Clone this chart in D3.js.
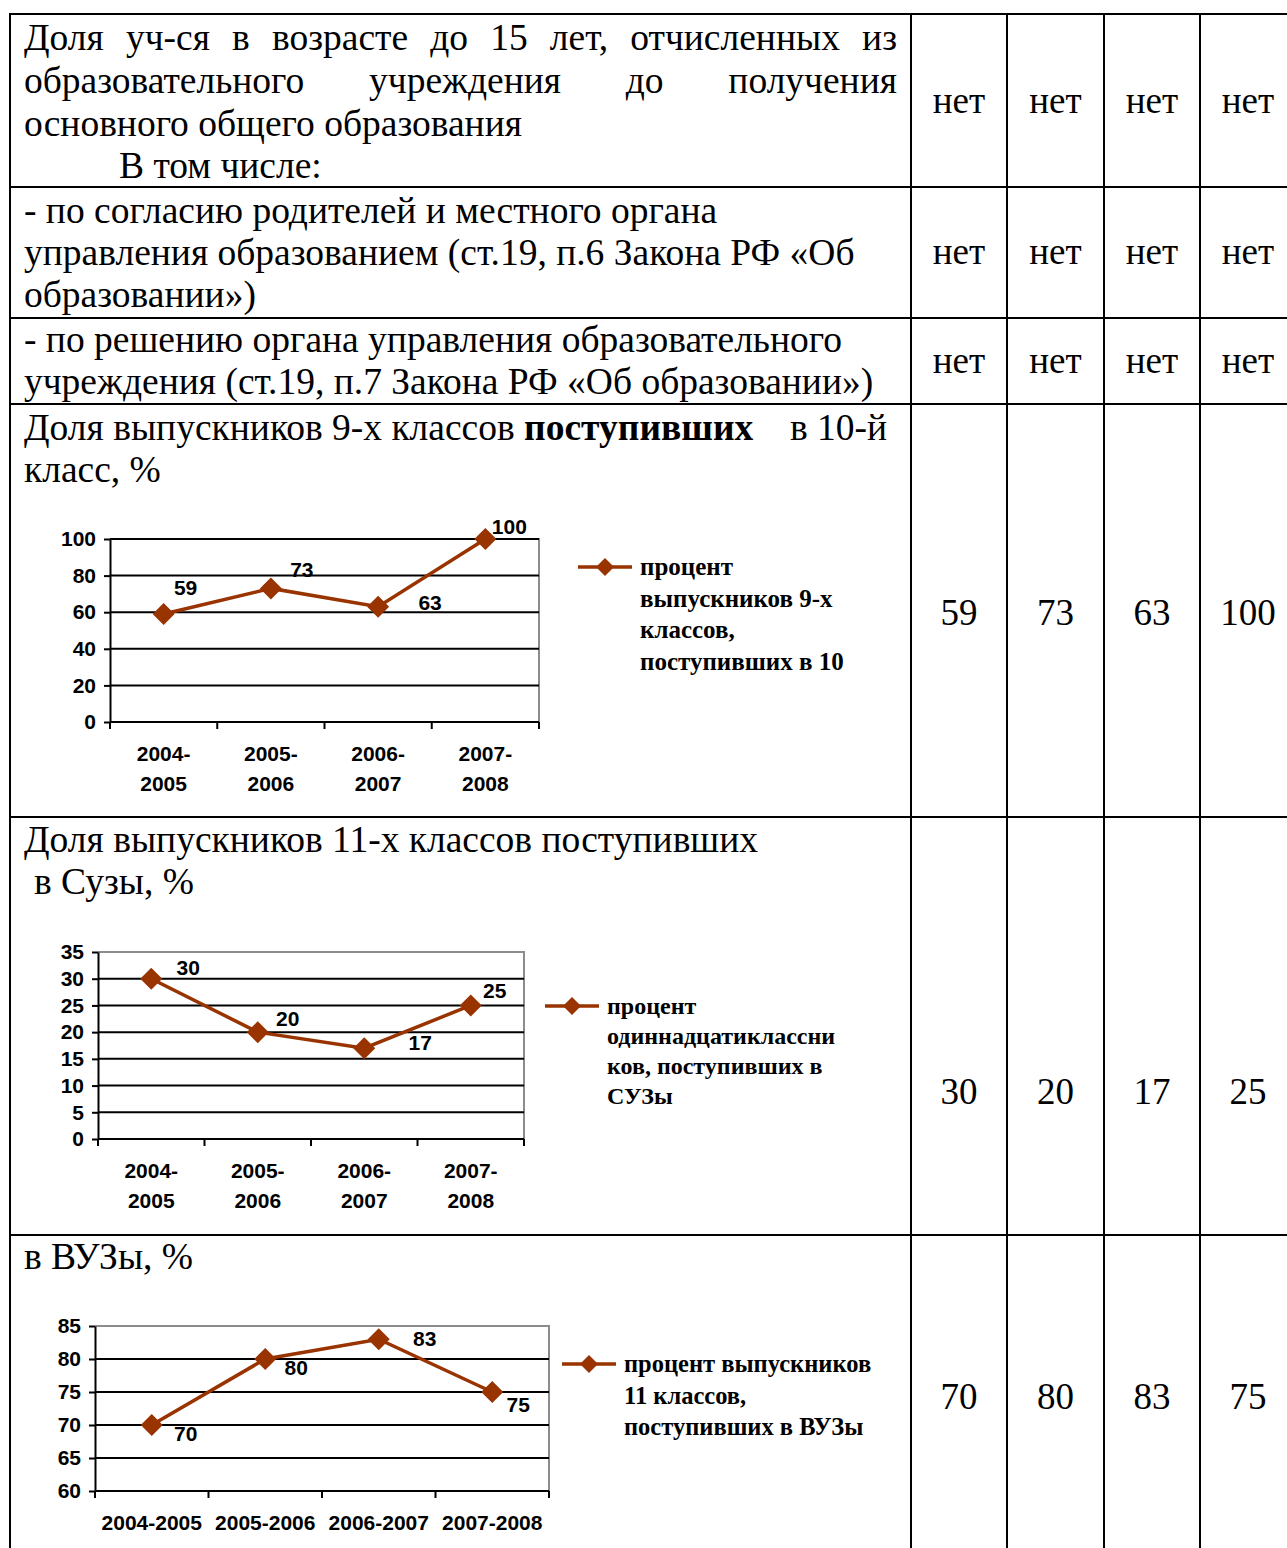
<!DOCTYPE html>
<html>
<head>
<meta charset="utf-8">
<script src="https://cdn.jsdelivr.net/npm/d3@7"></script>
<style>
  body { margin: 0; background: #fff; }
  svg { display: block; }
</style>
</head>
<body>
<script>
// ---- data ----
var years = ["2004-2005", "2005-2006", "2006-2007", "2007-2008"];
var noValues = ["нет", "нет", "нет", "нет"];
var grads9 = [59, 73, 63, 100];      // 9-х классов поступивших в 10-й класс
var grads11Suz = [30, 20, 17, 25];   // 11-х классов в ССУЗы
var grads11Vuz = [70, 80, 83, 75];   // 11-х классов в ВУЗы
var ticks9 = [0, 20, 40, 60, 80, 100];
var ticksSuz = [0, 5, 10, 15, 20, 25, 30, 35];
var ticksVuz = [60, 65, 70, 75, 80, 85];

var W = 1287, H = 1548;
var serif = "'Liberation Serif', 'Times New Roman', serif";
var sans = "'Liberation Sans', Arial, sans-serif";
var brown = "#993300";

var svg = d3.select("body").append("svg")
  .attr("width", W).attr("height", H);

// ---- table grid ----
var colX = [10, 911, 1007, 1104, 1200, 1296];
var rowY = [14, 187, 318, 404, 817, 1235];

svg.append("g").selectAll("line").data(rowY).join("line")
  .attr("x1", 9).attr("x2", W + 10)
  .attr("y1", function(d) { return d; }).attr("y2", function(d) { return d; })
  .attr("stroke", "#000").attr("stroke-width", 2);

svg.append("g").selectAll("line").data(colX).join("line")
  .attr("x1", function(d) { return d; }).attr("x2", function(d) { return d; })
  .attr("y1", 13).attr("y2", H + 10)
  .attr("stroke", "#000").attr("stroke-width", 2);

// ---- left column text ----
var body = svg.append("g")
  .attr("font-family", serif).attr("font-size", 37.5).attr("fill", "#000");

function textLine(str, x, y) {
  return body.append("text").attr("x", x).attr("y", y).text(str);
}

function justifyLine(words, x0, x1, y) {
  var nodes = words.map(function(w) {
    return body.append("text").attr("y", y).text(w);
  });
  var widths = nodes.map(function(n) { return n.node().getComputedTextLength(); });
  var gap = (x1 - x0 - d3.sum(widths)) / (words.length - 1);
  var cx = x0;
  nodes.forEach(function(n, i) { n.attr("x", cx); cx += widths[i] + gap; });
}

justifyLine(["Доля", "уч-ся", "в", "возрасте", "до", "15", "лет,", "отчисленных", "из"], 24, 897, 50);
justifyLine(["образовательного", "учреждения", "до", "получения"], 24, 897, 93);
textLine("основного общего образования", 24, 136);
textLine("В том числе:", 119, 178);

textLine("- по согласию родителей и местного органа", 24, 223);
textLine("управления образованием (ст.19, п.6 Закона РФ «Об", 24, 265);
textLine("образовании»)", 24, 307);

textLine("- по решению органа управления образовательного", 24, 352);
textLine("учреждения (ст.19, п.7 Закона РФ «Об образовании»)", 24, 394);

var r4 = textLine("Доля выпускников 9-х классов ", 24, 440);
r4.append("tspan").attr("font-weight", "bold").text("поступивших");
r4.append("tspan").attr("x", 790).text("в 10-й");
textLine("класс, %", 24, 482);

textLine("Доля выпускников 11-х классов поступивших", 24, 852);
textLine("в Сузы, %", 34, 894);

textLine("в ВУЗы, %", 24, 1269);

// ---- value columns ----
var valueRows = [
  { vals: noValues, y: 113 },
  { vals: noValues, y: 264 },
  { vals: noValues, y: 373 },
  { vals: grads9, y: 625 },
  { vals: grads11Suz, y: 1104 },
  { vals: grads11Vuz, y: 1409 }
];

valueRows.forEach(function(row) {
  svg.append("g").selectAll("text").data(row.vals).join("text")
    .attr("font-family", serif).attr("font-size", 37)
    .attr("x", function(d, i) { return (colX[i + 1] + colX[i + 2]) / 2; })
    .attr("y", row.y)
    .attr("text-anchor", "middle")
    .text(function(d) { return d; });
});

// ---- charts ----
function diamond(r) {
  return "M0," + (-r) + "L" + r + ",0L0," + r + "L" + (-r) + ",0Z";
}

function lineChart(cfg, values) {
  var g = svg.append("g");
  var x = d3.scaleBand().domain(years).range([cfg.left, cfg.right]);
  var y = d3.scaleLinear().domain(cfg.domain).range([cfg.bottom, cfg.top]);

  // plot area border (gray, top and right)
  g.append("path")
    .attr("d", "M" + cfg.left + "," + cfg.top + "H" + cfg.right + "V" + cfg.bottom)
    .attr("fill", "none").attr("stroke", "#8c8c8c").attr("stroke-width", 2);

  // gridlines
  g.append("g").selectAll("line").data(cfg.ticks.slice(1, cfg.gridTop ? undefined : -1)).join("line")
    .attr("x1", cfg.left).attr("x2", cfg.right)
    .attr("y1", function(d) { return y(d); }).attr("y2", function(d) { return y(d); })
    .attr("stroke", "#000").attr("stroke-width", 2);

  // y axis
  var yAxis = g.append("g")
    .attr("transform", "translate(" + cfg.left + ",0)")
    .call(d3.axisLeft(y).tickValues(cfg.ticks).tickSize(6).tickPadding(8).tickSizeOuter(0));
  yAxis.select(".domain").attr("stroke-width", 2);
  yAxis.selectAll(".tick line").attr("stroke-width", 2);
  yAxis.selectAll("text")
    .attr("font-family", sans).attr("font-size", 21).attr("font-weight", "bold").attr("fill", "#000");

  // x axis: line + ticks between categories
  g.append("line")
    .attr("x1", cfg.left).attr("x2", cfg.right)
    .attr("y1", cfg.bottom).attr("y2", cfg.bottom)
    .attr("stroke", "#000").attr("stroke-width", 2);
  var bounds = years.map(function(d) { return x(d); }).concat([cfg.right]);
  g.append("g").selectAll("line").data(bounds).join("line")
    .attr("x1", function(d) { return d; }).attr("x2", function(d) { return d; })
    .attr("y1", cfg.bottom).attr("y2", cfg.bottom + 7)
    .attr("stroke", "#000").attr("stroke-width", 2);

  var xl = g.append("g").selectAll("text").data(years).join("text")
    .attr("font-family", sans).attr("font-size", 21).attr("font-weight", "bold")
    .attr("text-anchor", "middle")
    .attr("transform", function(d) {
      return "translate(" + (x(d) + x.bandwidth() / 2) + "," + (cfg.bottom + 39) + ")";
    });
  if (cfg.wrap) {
    xl.each(function(d) {
      var parts = d.split("-");
      var t = d3.select(this);
      t.append("tspan").attr("x", 0).attr("y", 0).text(parts[0] + "-");
      t.append("tspan").attr("x", 0).attr("y", 30).text(parts[1]);
    });
  } else {
    xl.text(function(d) { return d; });
  }

  // series line
  var cx = function(d, i) { return x(years[i]) + x.bandwidth() / 2; };
  g.append("path")
    .datum(values)
    .attr("fill", "none").attr("stroke", brown).attr("stroke-width", 3.5)
    .attr("d", d3.line().x(cx).y(function(d) { return y(d); }));

  g.append("g").selectAll("path").data(values).join("path")
    .attr("transform", function(d, i) { return "translate(" + cx(d, i) + "," + y(d) + ")"; })
    .attr("d", diamond(11)).attr("fill", brown);

  // data labels
  g.append("g").selectAll("text").data(values).join("text")
    .attr("font-family", sans).attr("font-size", 21).attr("font-weight", "bold")
    .attr("text-anchor", "middle")
    .attr("x", function(d, i) { return cx(d, i) + cfg.labelOff[i][0]; })
    .attr("y", function(d, i) { return y(d) + cfg.labelOff[i][1] + 7; })
    .text(function(d) { return d; });

  // legend
  var lg = g.append("g");
  lg.append("line")
    .attr("x1", cfg.legend.x).attr("x2", cfg.legend.x + 54)
    .attr("y1", cfg.legend.y).attr("y2", cfg.legend.y)
    .attr("stroke", brown).attr("stroke-width", 3.5);
  lg.append("path")
    .attr("transform", "translate(" + (cfg.legend.x + 27) + "," + cfg.legend.y + ")")
    .attr("d", diamond(9)).attr("fill", brown);
  lg.selectAll("text").data(cfg.legend.lines).join("text")
    .attr("x", cfg.legend.x + 62)
    .attr("y", function(d, i) { return cfg.legend.y + 8 + i * cfg.legend.step; })
    .attr("font-family", serif).attr("font-size", cfg.legend.size).attr("font-weight", "bold")
    .text(function(d) { return d; });
}

lineChart({
  left: 110, right: 539, top: 539, bottom: 722,
  domain: [0, 100], ticks: ticks9, wrap: true, gridTop: true,
  labelOff: [[22, -26], [31, -18], [52, -4], [24, -12]],
  legend: { x: 578, y: 567, step: 31.5, size: 25,
    lines: ["процент", "выпускников 9-х", "классов,", "поступивших в 10"] }
}, grads9);

lineChart({
  left: 98, right: 524, top: 952, bottom: 1139,
  domain: [0, 35], ticks: ticksSuz, wrap: true, gridTop: false,
  labelOff: [[37, -11], [30, -13], [56, -5], [24, -14]],
  legend: { x: 545, y: 1006, step: 30, size: 24,
    lines: ["процент", "одиннадцатиклассни", "ков, поступивших в", "СУЗы"] }
}, grads11Suz);

lineChart({
  left: 95, right: 549, top: 1326, bottom: 1491,
  domain: [60, 85], ticks: ticksVuz, wrap: false, gridTop: false,
  labelOff: [[34, 9], [31, 9], [46, 0], [26, 13]],
  legend: { x: 562, y: 1364, step: 31.5, size: 24.5,
    lines: ["процент выпускников", "11 классов,", "поступивших в ВУЗы"] }
}, grads11Vuz);
</script>
</body>
</html>
